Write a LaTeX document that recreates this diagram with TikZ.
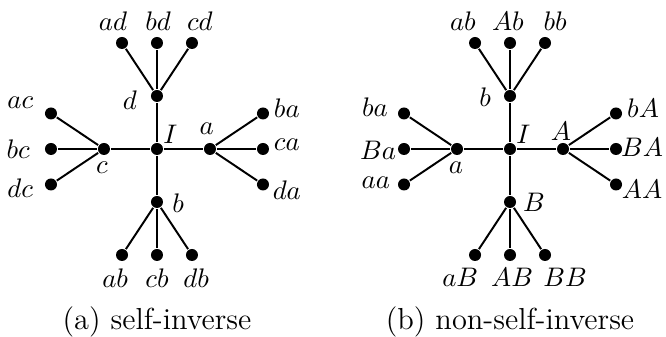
\documentclass[tikz,border=0pt]{standalone}
\usetikzlibrary{positioning}
\begin{document}
\begin{tikzpicture}[x=0.76cm, y=0.76cm, line width=0.8pt,
  vtx/.style={circle, fill, inner sep=0pt, minimum size=4.9pt},
  lab/.style={inner sep=0pt, font=\fontsize{11}{13}\selectfont},
  captxt/.style={font=\fontsize{12.4}{15}\selectfont}]
\useasboundingbox (0,0) rectangle (12.566,6.358);
% (a) the self-inverse generators
\begin{scope}[shift={(2.962,3.547)}]
\node[vtx] (L-I) at (0,0) {};
\node[lab] (L-I-txt) at (0.25,0.28) {$I$};
\foreach \n/\x/\y/\lx/\ly in {a/1/0/0.94/0.38, b/0/-1/0.40/-1.02, c/-1/0/-1.04/-0.36, d/0/1/-0.51/0.92} {
  \node[vtx] (L-\n) at (\x,\y) {};
  \node[lab] (L-\n-txt) at (\lx,\ly) {$\n$};
  \draw (L-I) -- (L-\n);}
\foreach \p/\l/\x/\y/\lx/\ly in {a/ba/2/0.67/2.45/0.77, a/ca/2/0/2.45/0.08, a/da/2/-0.67/2.45/-0.77,
  c/ac/-2/0.67/-2.58/0.87, c/bc/-2/0/-2.62/0, c/dc/-2/-0.67/-2.58/-0.74,
  d/ad/-0.66/2/-0.83/2.42, d/bd/0/2/0.02/2.42, d/cd/0.66/2/0.81/2.42,
  b/ab/-0.66/-2/-0.79/-2.43, b/cb/0/-2/0/-2.43, b/db/0.66/-2/0.74/-2.43} {
  \node[vtx] (L-\l) at (\x,\y) {};
  \node[lab] (L-\l-txt) at (\lx,\ly) {$\l$};
  \draw (L-\p) -- (L-\l);}
\end{scope}
% (b) a, b and their inverses A, B
\begin{scope}[shift={(9.623,3.547)}]
\node[vtx] (R-I) at (0,0) {};
\node[lab] (R-I-txt) at (0.25,0.28) {$I$};
\foreach \n/\x/\y/\lx/\ly in {A/1/0/0.96/0.34, B/0/-1/0.45/-1.0, a/-1/0/-1.02/-0.36, b/0/1/-0.47/0.98} {
  \node[vtx] (R-\n) at (\x,\y) {};
  \node[lab] (R-\n-txt) at (\lx,\ly) {$\n$};
  \draw (R-I) -- (R-\n);}
\foreach \p/\l/\x/\y/\lx/\ly in {A/bA/2/0.67/2.51/0.77, A/BA/2/0/2.49/0.04, A/AA/2/-0.67/2.49/-0.77,
  a/ba/-2/0.67/-2.55/0.79, a/Ba/-2/0/-2.49/-0.02, a/aa/-2/-0.67/-2.53/-0.64,
  b/ab/-0.66/2/-0.89/2.42, b/Ab/0/2/-0.04/2.42, b/bb/0.66/2/0.85/2.42,
  B/aB/-0.66/-2/-0.94/-2.43, B/AB/0/-2/0.04/-2.43, B/BB/0.66/-2/1.04/-2.43} {
  \node[vtx] (R-\l) at (\x,\y) {};
  \node[lab] (R-\l-txt) at (\lx,\ly) {$\l$};
  \draw (R-\p) -- (R-\l);}
\end{scope}
\node[captxt] (capA) at (2.962,0.29) {(a) self-inverse};
\node[captxt] (capB) at (9.623,0.29) {(b) non-self-inverse};
\end{tikzpicture}
\end{document}
